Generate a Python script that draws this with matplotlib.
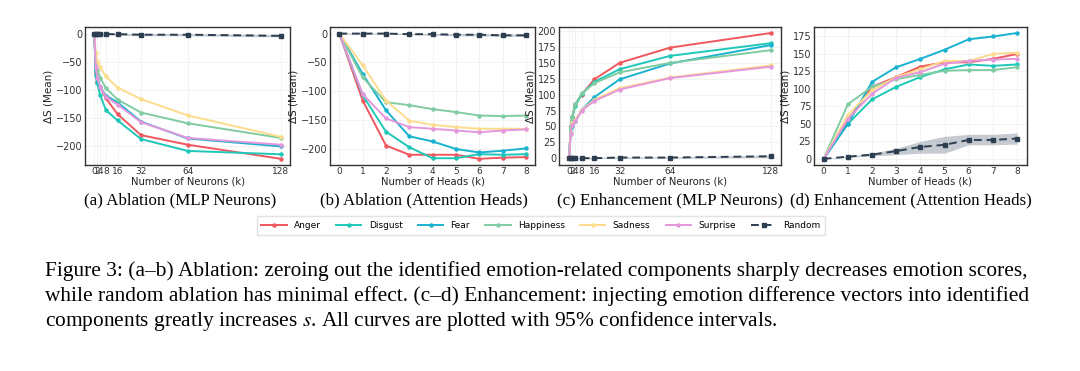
import matplotlib
matplotlib.use('Agg')
import numpy as np
import matplotlib.pyplot as plt
from matplotlib.ticker import MultipleLocator

plt.rcParams['mathtext.fontset'] = 'stix'

# ---- data ----
emotions = ['Anger', 'Disgust', 'Fear', 'Happiness', 'Sadness', 'Surprise']
colors = ['#f0575f', '#1ec8b8', '#19b2cf', '#80cca2', '#fddc8e', '#e597dc']
rand_color = '#2c3e50'

k_neurons = [0, 1, 2, 4, 8, 16, 32, 64, 128]
k_heads = [0, 1, 2, 3, 4, 5, 6, 7, 8]
neuron_ticks = [0, 2, 4, 8, 16, 32, 64, 128]

# (a) ablation, MLP neurons
abl_neurons = {
    'Anger':     [0, -70, -85, -95, -115, -143, -180, -197, -222],
    'Disgust':   [0, -75, -88, -109, -136, -154, -187, -208, -214],
    'Fear':      [0, -65, -80, -95, -110, -122, -156, -186, -200],
    'Happiness': [0, -50, -65, -78, -97, -117, -140, -159, -185],
    'Sadness':   [0, -35, -48, -60, -76, -96, -116, -145, -183],
    'Surprise':  [0, -60, -78, -95, -112, -126, -157, -185, -197],
}
abl_neurons_rand = [0, -1, -1, -1, -1, -1, -2, -2, -4]
abl_neurons_rand_lo = [-1, -2, -2, -2, -2, -3, -4, -4, -6]
abl_neurons_rand_hi = [1, 0, 0, 0, 0, 0, 0, 0, -2]

# (b) ablation, attention heads
abl_heads = {
    'Anger':     [0, -116, -194, -210, -210, -210, -217, -215, -214],
    'Disgust':   [0, -107, -170, -197, -216, -216, -209, -210, -209],
    'Fear':      [0, -70, -133, -178, -187, -200, -206, -203, -199],
    'Happiness': [0, -76, -119, -124, -131, -136, -142, -143, -142],
    'Sadness':   [0, -55, -116, -151, -158, -162, -165, -165, -165],
    'Surprise':  [0, -105, -147, -162, -165, -168, -171, -168, -166],
}
abl_heads_rand = [0, 0, 0, -1, -1, -2, -2, -3, -3]
abl_heads_rand_lo = [-1, -1, -1, -2, -3, -4, -4, -5, -5]
abl_heads_rand_hi = [1, 1, 1, 0, 0, 0, 0, -1, -1]

# (c) enhancement, MLP neurons
enh_neurons = {
    'Anger':     [0, 50, 65, 85, 100, 124, 150, 174, 197],
    'Disgust':   [0, 48, 65, 82, 101, 120, 140, 161, 181],
    'Fear':      [0, 40, 50, 58, 76, 96, 124, 149, 178],
    'Happiness': [0, 50, 65, 85, 102, 118, 135, 150, 170],
    'Sadness':   [0, 40, 55, 60, 76, 92, 110, 127, 146],
    'Surprise':  [0, 38, 52, 58, 75, 90, 108, 126, 144],
}
enh_neurons_rand = [0, 0, 0, 0, 0, 0, 1, 1, 3]
enh_neurons_rand_lo = [-1, -1, -1, -1, -1, -1, 0, 0, 1]
enh_neurons_rand_hi = [1, 1, 1, 1, 1, 1, 2, 2, 5]

# (d) enhancement, attention heads
enh_heads = {
    'Anger':     [0, 55, 103, 117, 132, 138, 138, 143, 150],
    'Disgust':   [0, 50, 85, 103, 117, 128, 135, 133, 135],
    'Fear':      [0, 50, 110, 131, 143, 156, 171, 175, 180],
    'Happiness': [0, 78, 103, 114, 120, 126, 127, 127, 131],
    'Sadness':   [0, 63, 98, 117, 128, 140, 140, 150, 152],
    'Surprise':  [0, 57, 93, 116, 124, 136, 140, 142, 143],
}
enh_heads_rand = [0, 3, 6, 11, 17, 20, 27, 27, 29]
enh_heads_rand_lo = [0, 2, 4, 6, 8, 8, 20, 20, 21]
enh_heads_rand_hi = [0, 4, 8, 15, 25, 32, 35, 35, 37]

subcaptions = ['(a) Ablation (MLP Neurons)', '(b) Ablation (Attention Heads)',
               '(c) Enhancement (MLP Neurons)', '(d) Enhancement (Attention Heads)']

caption = ["Figure 3: (a\u2013b) Ablation: zeroing out the identified emotion-related components sharply decreases emotion scores,",
           "while random ablation has minimal effect. (c\u2013d) Enhancement: injecting emotion difference vectors into identified",
           "components greatly increases $s$. All curves are plotted with 95% confidence intervals."]

panels = [
    (k_neurons, abl_neurons, abl_neurons_rand, abl_neurons_rand_lo, abl_neurons_rand_hi, 'Number of Neurons (k)', 50),
    (k_heads, abl_heads, abl_heads_rand, abl_heads_rand_lo, abl_heads_rand_hi, 'Number of Heads (k)', 50),
    (k_neurons, enh_neurons, enh_neurons_rand, enh_neurons_rand_lo, enh_neurons_rand_hi, 'Number of Neurons (k)', 25),
    (k_heads, enh_heads, enh_heads_rand, enh_heads_rand_lo, enh_heads_rand_hi, 'Number of Heads (k)', 25),
]

# axes boxes in figure fractions (left, bottom, width, height)
boxes = [(0.0787, 0.555, 0.190, 0.373),
         (0.3056, 0.555, 0.190, 0.373),
         (0.5176, 0.555, 0.2056, 0.373),
         (0.7537, 0.555, 0.197, 0.373)]
# centres of the sub-captions (pixels)
sub_cx = [180, 424, 670, 911]

fig = plt.figure(figsize=(10.8, 3.71), dpi=100)

handles = []
for i, (x, data, rnd, lo, hi, xlabel, ystep) in enumerate(panels):
    ax = fig.add_axes(boxes[i])
    for name, c in zip(emotions, colors):
        h, = ax.plot(x, data[name], color=c, lw=1.4, marker='o', ms=2.2, label=name)
        if i == 0:
            handles.append(h)
    ax.fill_between(x, lo, hi, color='#7f8c99', alpha=0.45, lw=0)
    h, = ax.plot(x, rnd, color=rand_color, lw=1.4, ls='--', marker='s', ms=2.5,
                 dashes=(4, 2.5), label='Random')
    if i == 0:
        handles.append(h)

    if x is k_neurons:
        ax.set_xticks(neuron_ticks)
    else:
        ax.set_xticks(k_heads)
    ax.yaxis.set_major_locator(MultipleLocator(ystep))
    ax.tick_params(axis='y', labelsize=7, colors='#333333', length=0, pad=2)
    ax.tick_params(axis='x', labelsize=6.5, colors='#333333', length=0, pad=1.5)
    ax.set_xlabel(xlabel, fontsize=7.2, color='#222222', labelpad=0.5)
    ax.set_ylabel('\u0394S (Mean)', fontsize=7.5, color='#222222', labelpad=1.5)
    ax.grid(True, color='#eeeeee', lw=0.5)
    ax.set_axisbelow(True)
    for s in ax.spines.values():
        s.set_color('#333333')
        s.set_linewidth(1.0)

    fig.text(sub_cx[i] / 1080, 1 - 200 / 371, subcaptions[i], ha='center', va='center',
             family='Liberation Serif', fontsize=12.2)

fig.legend(handles=handles, loc='center', bbox_to_anchor=(0.501, 1 - 225.5 / 371),
           ncol=7, fontsize=6.5, frameon=True, fancybox=False, edgecolor='#dddddd',
           handlelength=2.8, columnspacing=1.7, borderpad=0.5, handletextpad=0.8)

for j, line in enumerate(caption):
    fig.text(45 / 1080, 1 - (271 + 25 * j) / 371, line, ha='left', va='center',
             family='Liberation Serif', fontsize=15.4)

fig.savefig('out.png', dpi=100)
